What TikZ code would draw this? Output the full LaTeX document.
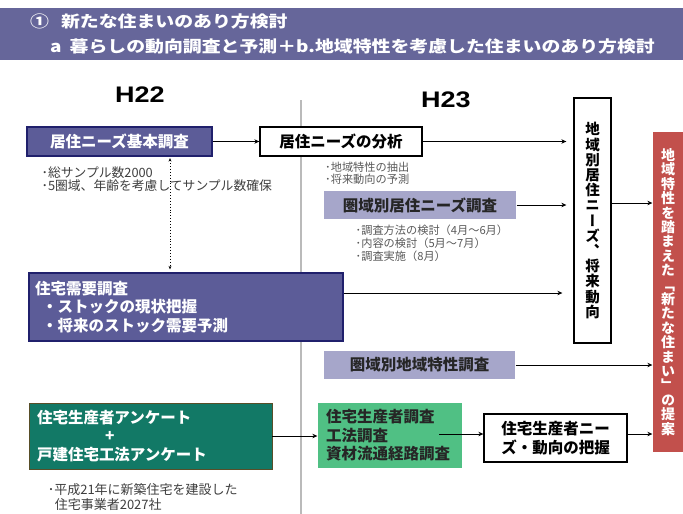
\documentclass[tikz,border=0pt]{standalone}
\usepackage{fontspec}
\setmainfont{Noto Sans CJK JP}
\newfontfamily\headfont{Noto Sans CJK JP}[FakeStretch=1.18]
\newfontfamily\yearfont{Liberation Sans}[FakeStretch=1.2]
\newfontfamily\vertfont{Noto Sans CJK JP}[RawFeature=+vert]
\usepackage{xcolor}
\usepackage{tikz}
\usetikzlibrary{arrows.meta}

\definecolor{bandcol}{RGB}{102,102,154}
\definecolor{navyfill}{RGB}{92,92,152}
\definecolor{navyline}{RGB}{32,32,108}
\definecolor{lavender}{RGB}{166,166,202}
\definecolor{tealfill}{RGB}{18,121,102}
\definecolor{tealline}{RGB}{88,78,40}
\definecolor{mintfill}{RGB}{80,192,132}
\definecolor{redfill}{RGB}{194,80,76}
\definecolor{divider}{RGB}{186,186,186}
\definecolor{notegray}{RGB}{62,62,62}

\begin{document}
\begin{tikzpicture}[
    x=1pt, y=-1pt,
    block/.style={rectangle, draw, line width=1.3pt, inner sep=0pt, align=center, font=\bfseries\fontsize{15.5}{18.5}\selectfont},
    navyblock/.style={block, fill=navyfill, draw=navyline, text=white},
    lightblock/.style={block, fill=lavender, draw=none, text=black!85},
    whiteblock/.style={block, fill=white, draw=black},
    vertblock/.style={font=\vertfont\bfseries\fontsize{14.5}{15.2}\selectfont},
    year/.style={inner sep=0pt, font=\yearfont\bfseries\fontsize{22.5}{27}\selectfont},
    note/.style={anchor=north west, inner sep=0pt, align=left, text=notegray},
    arrow/.style={-{Stealth[length=5pt, width=4.5pt]}, line width=1pt},
    dotarrow/.style={{Stealth[length=3.5pt, width=3pt]}-{Stealth[length=3.5pt, width=3pt]}, dotted, line width=0.9pt}
]
\useasboundingbox (0,0) rectangle (683,514);
\node[anchor=north west, fill=bandcol, text=white, minimum width=683pt, minimum height=52pt, inner xsep=30pt, inner ysep=0pt, text width=623pt, align=left, font=\headfont\bfseries\fontsize{16}{25}\selectfont] (title) at (0,8)
  {①\hspace{12pt}新たな住まいのあり方検討\\\hspace*{20pt}a\hspace{8pt}暮らしの動向調査と予測＋b.地域特性を考慮した住まいのあり方検討};
\draw[divider, line width=2.5pt] (301,100) -- (301,514);
\node[year] (h22) at (140,95) {H22};\node[year] (h23) at (446,100) {H23};
% H22 column
\node[navyblock, minimum width=185pt, minimum height=29pt] (kiso) at (119.5,141.5) {居住ニーズ基本調査};
\node[note, font=\fontsize{12.8}{13}\selectfont] (kisonote) at (41.4,166.4) {･総サンプル数2000\\･5圏域、年齢を考慮してサンプル数確保};
\node[navyblock, minimum height=68pt, text width=302pt, inner xsep=6pt, align=left] (juyo) at (186,307)
  {住宅需要調査\\\hspace*{7pt}・ストックの現状把握\\\hspace*{7pt}・将来のストック需要予測};
\node[block, fill=tealfill, draw=tealline, line width=0.8pt, text=white, minimum height=66pt, text width=227pt, inner xsep=8pt, align=left] (anketo) at (150.5,436)
  {住宅生産者アンケート\\\hspace*{68pt}+\\戸建住宅工法アンケート};
\node[note, font=\fontsize{13}{15}\selectfont] (anketonote) at (47.6,483) {･平成21年に新築住宅を建設した\\\hspace*{7pt}住宅事業者2027社};
% H23 column
\node[whiteblock, minimum width=162pt, minimum height=29pt] (bunseki) at (341,141.5) {居住ニーズの分析};
\node[note, text=black!65, font=\fontsize{11.2}{12}\selectfont] (bunsekinote) at (325,162) {･地域特性の抽出\\･将来動向の予測};
\node[lightblock, minimum width=192pt, minimum height=28pt] (kenneeds) at (420,205) {圏域別居住ニーズ調査};
\node[note, text=black!65, font=\fontsize{11.2}{13}\selectfont] (kenneedsnote) at (355.5,225) {･調査方法の検討（4月～6月）\\･内容の検討（5月～7月）\\･調査実施（8月）};
\node[lightblock, minimum width=191pt, minimum height=28pt] (kenchiki) at (419.5,365) {圏域別地域特性調査};
\node[block, fill=mintfill, draw=none, text=black!85, minimum height=65pt, text width=128pt, inner xsep=8pt, align=left] (chosa) at (390,435.5)
  {住宅生産者調査\\工法調査\\資材流通経路調査};
\node[whiteblock, minimum width=143pt, minimum height=48pt] (haaku) at (555.5,438) {住宅生産者ニー\\ズ・動向の把握};
\node[whiteblock, vertblock, minimum width=37pt, minimum height=245pt] (needs) at (592.5,220.5) {地\\域\\別\\居\\住\\ニ\\ー\\ズ\\、\\将\\来\\動\\向};
\node[block, fill=redfill, draw=none, text=white, minimum width=30pt, minimum height=320pt, font=\vertfont\bfseries\fontsize{14}{14.4}\selectfont] (teian) at (668,292)
  {地\\域\\特\\性\\を\\踏\\ま\\え\\た\\「\\新\\た\\な\\住\\ま\\い\\」\\の\\提\\案};
% connectors
\coordinate (juyoout) at ([yshift=14pt]juyo.east);
\coordinate (needsout) at ([yshift=17.5pt]needs.east);
\coordinate (chosaout) at ([xshift=49pt, yshift=1.5pt]chosa.center);
\draw[dotarrow, shorten <=1.5pt, shorten >=3pt] ([xshift=50.5pt]kiso.south) -- ([xshift=50.5pt]kiso.south |- juyo.north);
\draw[arrow] (kiso) -- (bunseki);
\draw[arrow, shorten >=7pt] (bunseki.east) -- (needs.west |- bunseki.east);
\draw[arrow, shorten >=7pt] (kenneeds.east) -- (needs.west |- kenneeds.east);
\draw[arrow, shorten >=11pt] (juyoout) -- (needs.west |- juyoout);
\draw[arrow] (needsout) -- (teian.west |- needsout);
\draw[arrow] (kenchiki.east) -- (teian.west |- kenchiki.east);
\draw[arrow] (anketo.east) -- (chosa.west |- anketo.east);
\draw[arrow] (chosaout) -- (haaku.west |- chosaout);
\draw[arrow] (haaku.east |- chosaout) -- (teian.west |- chosaout);
\end{tikzpicture}
\end{document}
